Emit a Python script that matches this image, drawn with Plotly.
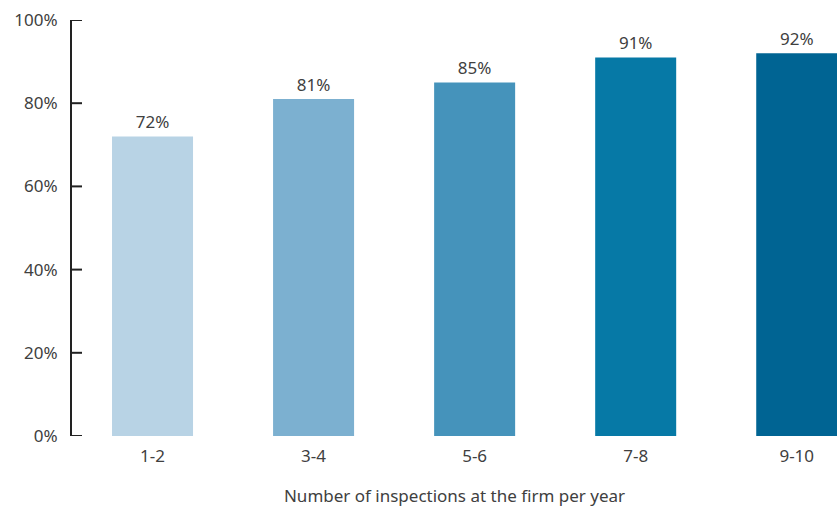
import plotly.graph_objects as go

categories = ["1-2", "3-4", "5-6", "7-8", "9-10"]
values = [72, 81, 85, 91, 92]
labels = ["72%", "81%", "85%", "91%", "92%"]
colors = ["#b8d3e5", "#7cb0d0", "#4593bb", "#0679a6", "#006493"]
y_ticks = [0, 20, 40, 60, 80, 100]
y_tick_text = ["0%", "20%", "40%", "60%", "80%", "100%"]

font_family = "Noto Sans, Open Sans, sans-serif"
text_color = "#404040"
axis_color = "#222222"

fig = go.Figure(
    go.Bar(
        x=categories,
        y=values,
        text=labels,
        textposition="outside",
        cliponaxis=False,
        marker=dict(color=colors, line=dict(width=0)),
        textfont=dict(family=font_family, size=17, color=text_color),
        width=0.503,
    )
)

# tick marks pointing right from the y-axis line, at each tick value
for v in y_ticks:
    fig.add_shape(
        type="line",
        xref="paper",
        yref="y",
        xsizemode="pixel",
        xanchor=0,
        x0=-1,
        x1=10,
        y0=v,
        y1=v,
        line=dict(color=axis_color, width=2),
        layer="above",
    )

fig.update_layout(
    width=837,
    height=507,
    margin=dict(l=72, r=0, t=20, b=71),
    plot_bgcolor="white",
    paper_bgcolor="white",
    showlegend=False,
    font=dict(family=font_family, size=17, color=text_color),
    xaxis=dict(
        type="category",
        range=[-0.5, 4.25],
        showline=False,
        showgrid=False,
        ticks="",
        ticklabelstandoff=8,
        tickfont=dict(size=17, color=text_color),
        title=dict(
            text="Number of inspections at the firm per year",
            font=dict(size=17, color=text_color),
            standoff=24,
        ),
    ),
    yaxis=dict(
        range=[0, 100],
        tickvals=y_ticks,
        ticktext=y_tick_text,
        showgrid=False,
        zeroline=False,
        showline=True,
        linecolor=axis_color,
        linewidth=2,
        ticks="",
        ticklabelstandoff=9,
        tickfont=dict(size=17, color=text_color),
    ),
)

fig.write_html("out.html")
